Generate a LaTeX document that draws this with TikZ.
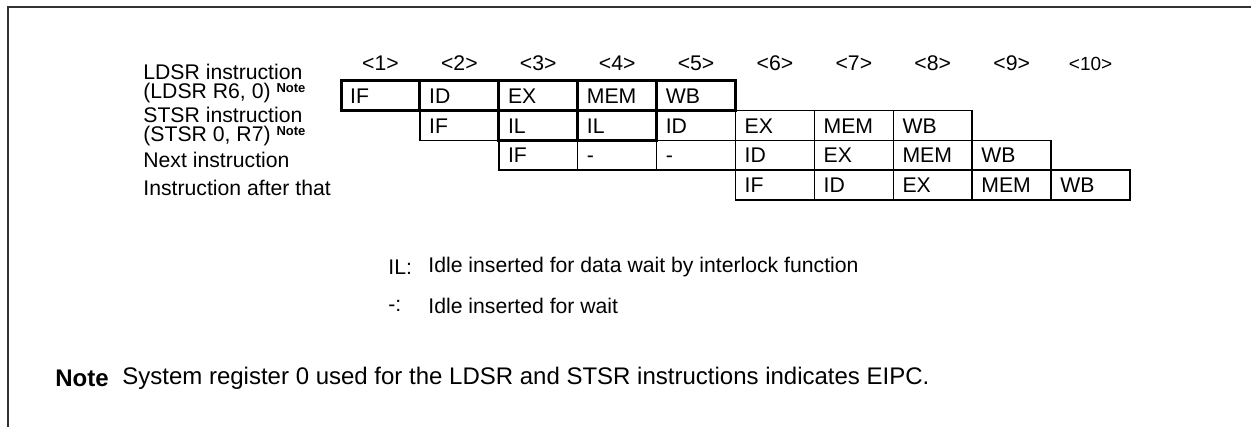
\documentclass[tikz,border=0pt]{standalone}
\usepackage{fontspec}
\setmainfont{Liberation Sans}
\usetikzlibrary{positioning}
\newcommand{\notemark}{\raisebox{3pt}{\fontsize{6.5}{7}\selectfont\bfseries Note}}

\begin{document}
\begin{tikzpicture}[
    x=0.5pt, y=-0.5pt,
    every node/.style={font=\fontsize{10.6}{9.2}\selectfont},
    cell/.style={rectangle, draw, line width=0.75pt, minimum width=39.45pt, minimum height=14.875pt, inner xsep=4.6pt, inner ysep=0pt, text width=30.25pt, align=left, text height=7.6pt, text depth=0pt, outer sep=0pt},
    lock/.style={cell, line width=1.5pt},
    hdr/.style={inner sep=0pt, text height=7.6pt, text depth=0pt, on grid},
    lbl/.style={anchor=west, inner sep=0pt, align=left},
    body/.style={lbl, font=\fontsize{12}{13}\selectfont}
  ]
  \useasboundingbox (0,0) rectangle (1251,427);

  % Frame
  \draw[line width=1pt, black!80] (8,427) -- (8,7) -- (1251,7);

  % LDSR instruction
  \node[lock, anchor=north west] (a1) at (341,81) {IF};
  \node[lock, right=0pt of a1] (a2) {ID};
  \node[lock, right=0pt of a2] (a3) {EX};
  \node[lock, right=0pt of a3] (a4) {MEM};
  \node[lock, right=0pt of a4] (a5) {WB};

  % STSR instruction
  \node[cell, below=0pt of a2] (b1) {IF};
  \node[lock, right=0pt of b1] (b2) {IL};
  \node[lock, right=0pt of b2] (b3) {IL};
  \node[cell, right=0pt of b3] (b4) {ID};
  \node[cell, right=0pt of b4] (b5) {EX};
  \node[cell, right=0pt of b5] (b6) {MEM};
  \node[cell, right=0pt of b6] (b7) {WB};

  % Next instruction
  \node[cell, below=0pt of b2] (c1) {IF};
  \node[cell, right=0pt of c1] (c2) {-};
  \node[cell, right=0pt of c2] (c3) {-};
  \node[cell, right=0pt of c3] (c4) {ID};
  \node[cell, right=0pt of c4] (c5) {EX};
  \node[cell, right=0pt of c5] (c6) {MEM};
  \node[cell, right=0pt of c6] (c7) {WB};

  % Instruction after that
  \node[cell, below=0pt of c4] (d1) {IF};
  \node[cell, right=0pt of d1] (d2) {ID};
  \node[cell, right=0pt of d2] (d3) {EX};
  \node[cell, right=0pt of d3] (d4) {MEM};
  \node[cell, right=0pt of d4] (d5) {WB};

  % Clock numbers
  \node[hdr, above=16.45pt of a1] (h1) {\textless1\textgreater};
  \node[hdr, right=39.45pt of h1] (h2) {\textless2\textgreater};
  \node[hdr, right=39.45pt of h2] (h3) {\textless3\textgreater};
  \node[hdr, right=39.45pt of h3] (h4) {\textless4\textgreater};
  \node[hdr, right=39.45pt of h4] (h5) {\textless5\textgreater};
  \node[hdr, right=39.45pt of h5] (h6) {\textless6\textgreater};
  \node[hdr, right=39.45pt of h6] (h7) {\textless7\textgreater};
  \node[hdr, right=39.45pt of h7] (h8) {\textless8\textgreater};
  \node[hdr, right=39.45pt of h8] (h9) {\textless9\textgreater};
  \node[hdr, right=39.45pt of h9, font=\fontsize{9.5}{10}\selectfont] (h10) {\textless10\textgreater};

  % Row labels
  \node[lbl] (ldsr) at (143,83.5) {LDSR instruction\\(LDSR R6, 0) \notemark};
  \node[lbl] (stsr) at (143,126.5) {STSR instruction\\(STSR 0, R7) \notemark};
  \node[lbl] (next) at (143,160) {Next instruction};
  \node[lbl] (after) at (143,188) {Instruction after that};

  % Legend
  \node[lbl] (ilkey) at (388,267) {IL:};
  \node[lbl] (iltxt) at (428,267) {Idle inserted for data wait by interlock function};
  \node[lbl] (dashkey) at (388,306) {-:};
  \node[lbl] (dashtxt) at (428,306) {Idle inserted for wait};

  % Note
  \node[body, font=\fontsize{12}{13}\selectfont\bfseries] (notekey) at (55,378) {Note};
  \node[body] (notetxt) at (122,378) {System register 0 used for the LDSR and STSR instructions indicates EIPC.};
\end{tikzpicture}
\end{document}
